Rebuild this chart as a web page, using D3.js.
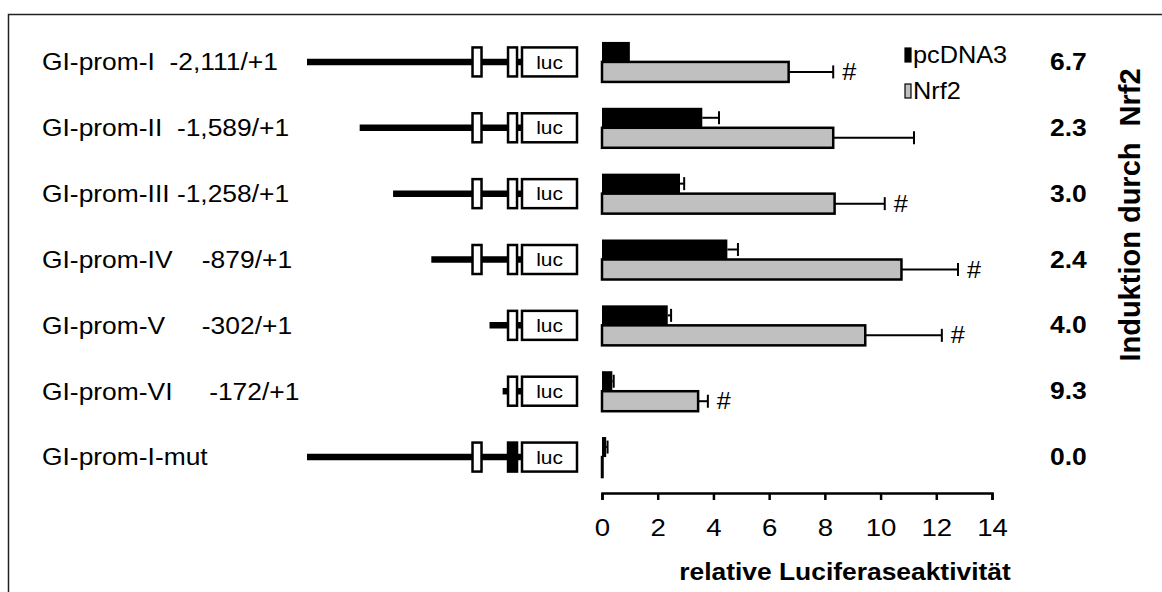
<!DOCTYPE html>
<html>
<head>
<meta charset="utf-8">
<script src="https://cdn.jsdelivr.net/npm/d3@7"></script>
<style>
  body { margin: 0; background: #fff; }
  svg { display: block; }
  text { font-family: "Liberation Sans", Arial, sans-serif; fill: #000; }
</style>
</head>
<body>
<svg id="chart" width="1162" height="592"></svg>
<script>
// Promoter deletion constructs (labels keep their spacing)
const constructs = [
  "GI-prom-I  -2,111/+1",
  "GI-prom-II  -1,589/+1",
  "GI-prom-III -1,258/+1",
  "GI-prom-IV    -879/+1",
  "GI-prom-V     -302/+1",
  "GI-prom-VI     -172/+1",
  "GI-prom-I-mut"
];
// 5' end of each construct, bp relative to transcription start
const promoterStart = [-2111, -1589, -1258, -879, -302, -172, -2111];
// Positions of the two response elements (bp)
const elementSites = [-426, -74];
// Whether the proximal element is mutated
const proximalMutated = [false, false, false, false, false, false, true];

// Relative luciferase activity
const seriesNames = ["pcDNA3", "Nrf2"];
const pcDNA3 = [1.0, 3.6, 2.8, 4.5, 2.36, 0.37, 0.15];
const pcDNA3Err = [0, 0.6, 0.15, 0.38, 0.12, 0.05, 0.05];
const nrf2 = [6.7, 8.3, 8.35, 10.75, 9.45, 3.45, 0.0];
const nrf2Err = [1.6, 2.9, 1.8, 2.03, 2.75, 0.35, 0];
const significant = [true, false, true, true, true, true, false];
const xTicks = [0, 2, 4, 6, 8, 10, 12, 14];

const xTitle = "relative Luciferaseaktivität";
const foldTitle = "Induktion durch  Nrf2";

const SX = 1.1; // horizontal text stretch
const svg = d3.select("#chart");

// frame
svg.append("rect")
  .attr("x", 8.5).attr("y", 14.5).attr("width", 1170).attr("height", 600)
  .attr("fill", "none").attr("stroke", "#222").attr("stroke-width", 1.5);

const rows = d3.range(constructs.length);
const y = d3.scaleBand().domain(rows).range([29, 490]);
const cy = i => y(i) + y.bandwidth() / 2;

const x = d3.scaleLinear().domain([0, 14]).range([602, 992]);
const bp = d3.scaleLinear().domain([-2111, 0]).range([307, 520]);

function label(parent, px, py, str, size, weight, anchor, sx) {
  return parent.append("text")
    .attr("transform", `translate(${px},${py}) scale(${sx || SX},1)`)
    .attr("dy", "0.35em")
    .attr("text-anchor", anchor || "start")
    .style("font-size", size + "px")
    .style("font-weight", weight || "normal")
    .style("white-space", "pre")
    .text(str);
}

// construct names
const names = svg.append("g");
rows.forEach(i => label(names, 42, cy(i), constructs[i], 24));

// construct diagrams
const diag = svg.append("g");
const lucX = 522, lucW = 55, boxH = 29, siteW = 9;
rows.forEach(i => {
  const c = cy(i);
  diag.append("line")
    .attr("x1", bp(promoterStart[i])).attr("x2", lucX)
    .attr("y1", c).attr("y2", c)
    .attr("stroke", "#000").attr("stroke-width", 6.5);
  elementSites.forEach((s, k) => {
    if (s < promoterStart[i]) return;
    const filled = k === 1 && proximalMutated[i];
    diag.append("rect")
      .attr("x", bp(s) - siteW / 2).attr("y", c - boxH / 2)
      .attr("width", siteW).attr("height", boxH)
      .attr("fill", filled ? "#000" : "#fff")
      .attr("stroke", "#000").attr("stroke-width", 2.5);
  });
  diag.append("rect")
    .attr("x", lucX).attr("y", c - boxH / 2)
    .attr("width", lucW).attr("height", boxH)
    .attr("fill", "#fff").attr("stroke", "#000").attr("stroke-width", 2.5);
  label(diag, lucX + lucW / 2, c, "luc", 19, "normal", "middle");
});

// bars
const barH = 20;
const bars = svg.append("g");
rows.forEach(i => {
  const c = cy(i);
  // Nrf2 (lower)
  bars.append("rect")
    .attr("x", x(0)).attr("y", c)
    .attr("width", Math.max(x(nrf2[i]) - x(0), 0.5)).attr("height", barH)
    .attr("fill", "#c0c0c0").attr("stroke", "#000").attr("stroke-width", 2.5);
  // pcDNA3 (upper)
  bars.append("rect")
    .attr("x", x(0)).attr("y", c - barH)
    .attr("width", x(pcDNA3[i]) - x(0)).attr("height", barH)
    .attr("fill", "#000");
});

// error bars
const err = svg.append("g").attr("stroke", "#000").attr("stroke-width", 2);
function errorBar(v, e, yc) {
  if (e <= 0) return;
  err.append("line").attr("x1", x(v)).attr("x2", x(v + e)).attr("y1", yc).attr("y2", yc);
  err.append("line").attr("x1", x(v + e)).attr("x2", x(v + e)).attr("y1", yc - 6.5).attr("y2", yc + 6.5);
}
rows.forEach(i => {
  const c = cy(i);
  errorBar(pcDNA3[i], pcDNA3Err[i], c - barH / 2);
  errorBar(nrf2[i], nrf2Err[i], c + barH / 2);
});

// significance marks
const marks = svg.append("g");
rows.forEach(i => {
  if (!significant[i]) return;
  label(marks, x(nrf2[i] + nrf2Err[i]) + 9, cy(i) + barH / 2, "#", 23);
});

// x axis
const axis = svg.append("g")
  .attr("transform", "translate(0,493)")
  .call(d3.axisBottom(x).tickValues(xTicks).tickSize(7).tickPadding(19).tickSizeOuter(7));
axis.select(".domain").attr("stroke", "#000").attr("stroke-width", 2.5);
axis.selectAll(".tick line").attr("stroke", "#000").attr("stroke-width", 2.5);
axis.selectAll(".tick text")
  .attr("transform", "scale(1.15,1)")
  .style("font-size", "24px")
  .style("font-family", "'Liberation Sans', Arial, sans-serif")
  .attr("fill", "#000");

label(svg, 845, 572, xTitle, 24, "bold", "middle");

// legend
const legend = svg.append("g");
const legendFill = ["#000", "#c0c0c0"];
seriesNames.forEach((n, k) => {
  const ly = 55 + k * 36;
  legend.append("rect")
    .attr("x", 905).attr("y", ly - 7).attr("width", 6).attr("height", 14)
    .attr("fill", legendFill[k]).attr("stroke", "#000").attr("stroke-width", 1.2);
  label(legend, 913, ly, n, 23);
});

// fold induction (Nrf2 / pcDNA3)
const fold = svg.append("g");
rows.forEach(i => {
  const f = pcDNA3[i] > 0 ? nrf2[i] / pcDNA3[i] : 0;
  label(fold, 1050, cy(i), f.toFixed(1), 23, "bold", "start", 1.15);
});

svg.append("text")
  .attr("transform", "translate(1130,215) rotate(-90)")
  .attr("dy", "0.35em")
  .attr("text-anchor", "middle")
  .style("font-size", "29px")
  .style("font-weight", "bold")
  .style("white-space", "pre")
  .text(foldTitle);
</script>
</body>
</html>
